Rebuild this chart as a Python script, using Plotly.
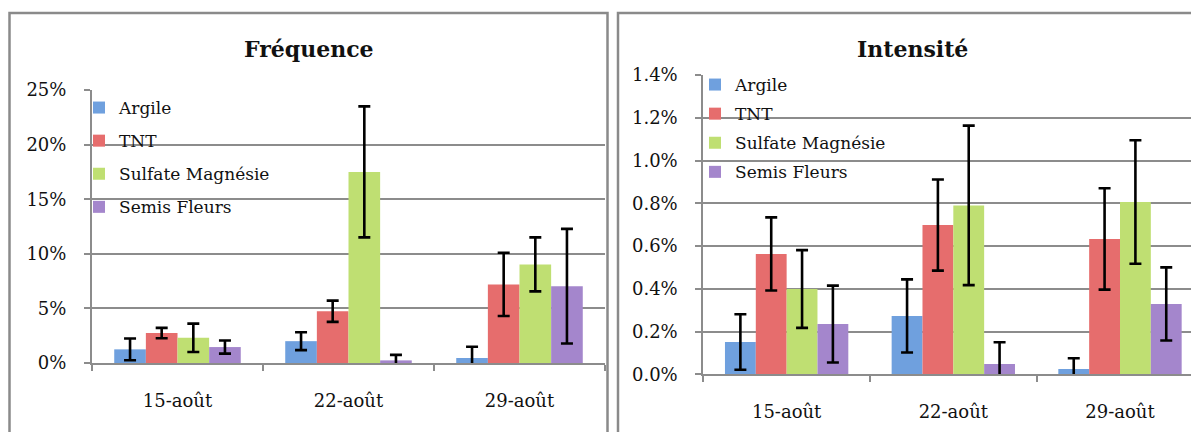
import plotly.graph_objects as go

# Dates of the three observations
dates = ["15-août", "22-août", "29-août"]
series = ["Argile", "TNT", "Sulfate Magnésie", "Semis Fleurs"]

# Fréquence (fraction) and standard errors
freq_argile = [0.0125, 0.0200, 0.0046]
freq_tnt = [0.0274, 0.0474, 0.0720]
freq_sulfate = [0.0231, 0.1750, 0.0903]
freq_semis = [0.0146, 0.0024, 0.0703]

freq_err_argile = [0.0100, 0.0082, 0.0103]
freq_err_tnt = [0.0048, 0.0097, 0.0289]
freq_err_sulfate = [0.0130, 0.0600, 0.0247]
freq_err_semis = [0.0060, 0.0050, 0.0525]

# Intensité (fraction) and standard errors
int_argile = [0.00151, 0.00273, 0.00025]
int_tnt = [0.00563, 0.00698, 0.00633]
int_sulfate = [0.00399, 0.00790, 0.00806]
int_semis = [0.00235, 0.00048, 0.00329]

int_err_argile = [0.00130, 0.00171, 0.00050]
int_err_tnt = [0.00171, 0.00213, 0.00237]
int_err_sulfate = [0.00182, 0.00373, 0.00289]
int_err_semis = [0.00180, 0.00102, 0.00171]

colors = ["#6fa0de", "#e66d6d", "#bfdf72", "#a486cc"]

freq_vals = [freq_argile, freq_tnt, freq_sulfate, freq_semis]
freq_errs = [freq_err_argile, freq_err_tnt, freq_err_sulfate, freq_err_semis]
int_vals = [int_argile, int_tnt, int_sulfate, int_semis]
int_errs = [int_err_argile, int_err_tnt, int_err_sulfate, int_err_semis]

W, H = 1191, 432
GRID = "#8c8c8c"
FONT = "DejaVu Serif"


def px_x(p):
    return p / W


def px_y(p):
    return (H - p) / H


fig = go.Figure()

for name, vals, errs, col in zip(series, freq_vals, freq_errs, colors):
    fig.add_trace(go.Bar(
        x=dates, y=vals, name=name, marker=dict(color=col, line=dict(width=0)),
        error_y=dict(type="data", array=errs, color="black", thickness=2.6, width=6),
        xaxis="x", yaxis="y", legend="legend", legendgroup="f_" + name,
    ))

for name, vals, errs, col in zip(series, int_vals, int_errs, colors):
    fig.add_trace(go.Bar(
        x=dates, y=vals, name=name, marker=dict(color=col, line=dict(width=0)),
        error_y=dict(type="data", array=errs, color="black", thickness=2.6, width=6),
        xaxis="x2", yaxis="y2", legend="legend2", legendgroup="i_" + name,
    ))

xaxis_common = dict(
    type="category", tickson="boundaries", ticks="outside", ticklen=6,
    tickcolor=GRID, tickwidth=2, showline=True, linecolor=GRID, linewidth=2,
    showgrid=False, tickfont=dict(family=FONT, size=18, color="#111"),
    ticklabelstandoff=20, fixedrange=True, automargin=False,
)
yaxis_common = dict(
    ticks="outside", ticklen=6, tickcolor=GRID, tickwidth=2,
    showline=True, linecolor=GRID, linewidth=2,
    showgrid=True, gridcolor=GRID, gridwidth=2, zeroline=False,
    tickfont=dict(family=FONT, size=18, color="#111"),
    ticklabelstandoff=14, fixedrange=True, automargin=False,
)

legend_common = dict(
    xanchor="left", yanchor="top", bgcolor="rgba(0,0,0,0)", borderwidth=0,
    font=dict(family=FONT, size=17, color="#111"), itemwidth=30,
)

fig.update_layout(
    width=W, height=H, margin=dict(l=0, r=0, t=0, b=0, autoexpand=False),
    paper_bgcolor="white", plot_bgcolor="white",
    font=dict(family=FONT, size=17, color="#111"),
    barmode="group", bargap=0.26, bargroupgap=0,
    showlegend=True,
    xaxis=dict(domain=[px_x(92), px_x(605)], anchor="y", range=[-0.5, 2.5], **xaxis_common),
    yaxis=dict(domain=[px_y(363), px_y(90)], anchor="x", range=[0, 0.25], dtick=0.05,
               tickformat=".0%", **yaxis_common),
    xaxis2=dict(domain=[px_x(703.3), 1.0], anchor="y2", range=[-0.5, 2.426], **xaxis_common),
    yaxis2=dict(domain=[px_y(374.3), px_y(75)], anchor="x2", range=[0, 0.014], dtick=0.002,
                tickformat=".1%", **yaxis_common),
    legend=dict(x=px_x(79), y=px_y(90), tracegroupgap=8, **legend_common),
    legend2=dict(x=px_x(695), y=px_y(67), tracegroupgap=4, **legend_common),
    shapes=[
        dict(type="rect", xref="paper", yref="paper",
             x0=px_x(9.5), x1=px_x(607.5), y0=-0.2, y1=px_y(13),
             line=dict(color="#8a8a8a", width=2.5), layer="below"),
        dict(type="rect", xref="paper", yref="paper",
             x0=px_x(618), x1=px_x(1207), y0=-0.2, y1=px_y(13),
             line=dict(color="#8a8a8a", width=2.5), layer="below"),
    ],
    annotations=[
        dict(text="<b>Fréquence</b>", x=px_x(309), y=px_y(49), xref="paper", yref="paper",
             xanchor="center", yanchor="middle", showarrow=False,
             font=dict(family=FONT, size=22, color="#111")),
        dict(text="<b>Intensité</b>", x=px_x(912), y=px_y(49), xref="paper", yref="paper",
             xanchor="center", yanchor="middle", showarrow=False,
             font=dict(family=FONT, size=22, color="#111")),
    ],
)

fig.write_html("out.html")
